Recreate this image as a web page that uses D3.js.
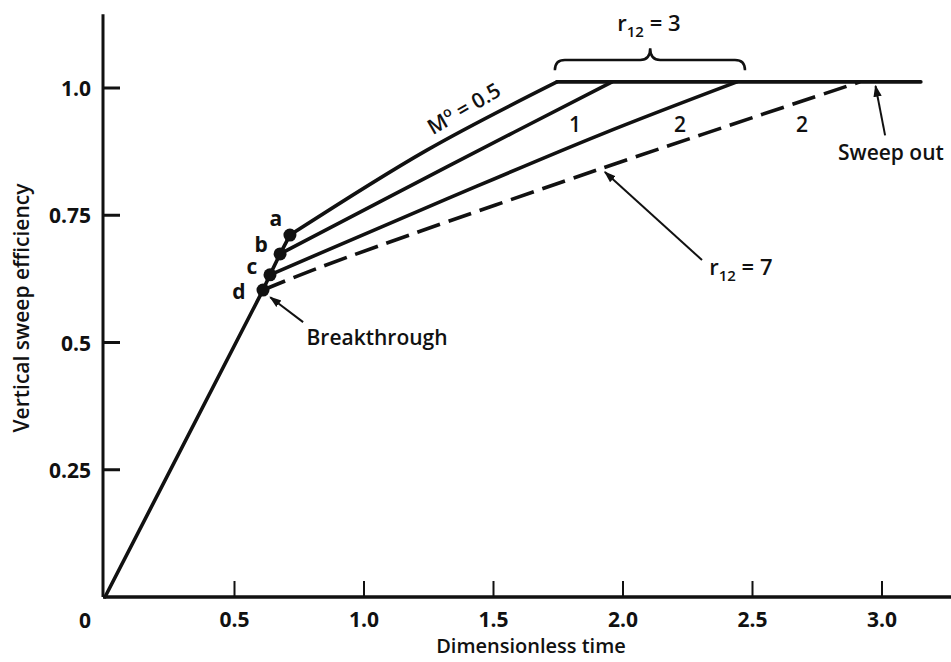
<!DOCTYPE html>
<html>
<head>
<meta charset="utf-8">
<script src="https://cdn.jsdelivr.net/npm/d3@7"></script>
<style>
  body { margin: 0; background: #fff; }
  svg text { font-family: "Open Sans", "DejaVu Sans", sans-serif; fill: #111; }
</style>
</head>
<body>
<svg id="chart" width="951" height="662"></svg>
<script>
////////////////////////////////////////////////////////////
// DATA
////////////////////////////////////////////////////////////
var xTicks = [0.5, 1.0, 1.5, 2.0, 2.5, 3.0];
var xTickLabels = ["0.5", "1.0", "1.5", "2.0", "2.5", "3.0"];
var yTicks = [0.25, 0.5, 0.75, 1.0];
var yTickLabels = ["0.25", "0.5", "0.75", "1.0"];

// line up to breakthrough, origin through d, c, b to a
var breakthroughLine = [[0, 0], [0.610, 0.603], [0.637, 0.633], [0.676, 0.674], [0.714, 0.711]];

// curves after breakthrough
var curveA = [[0.714, 0.711], [1.243, 0.878], [1.745, 1.012]];                   // M = 0.5, r12 = 3
var curveB = [[0.676, 0.674], [1.320, 0.845], [1.958, 1.012]];                   // M = 1, r12 = 3
var curveC = [[0.637, 0.633], [1.320, 0.782], [1.911, 0.908], [2.440, 1.012]];   // M = 2, r12 = 3
var curveD = [[0.610, 0.603], [0.842, 0.650], [1.900, 0.839], [2.915, 1.012]];   // M = 2, r12 = 7
var plateau = [[1.745, 1.012], [3.15, 1.012]];

var pointNames = ["a", "b", "c", "d"];
var points = [[0.714, 0.711], [0.676, 0.674], [0.637, 0.633], [0.610, 0.603]];

////////////////////////////////////////////////////////////
// SCALES
////////////////////////////////////////////////////////////
var svg = d3.select("#chart");
var x = d3.scaleLinear().domain([0, 3]).range([105, 882]);
var y = d3.scaleLinear().domain([0, 1]).range([597, 88]);

var line = d3.line()
    .x(function(d) { return x(d[0]); })
    .y(function(d) { return y(d[1]); });

var curvedLine = d3.line()
    .x(function(d) { return x(d[0]); })
    .y(function(d) { return y(d[1]); })
    .curve(d3.curveCatmullRom.alpha(0.5));

// axes
svg.append("line")
    .attr("x1", x(0) - 2).attr("x2", x(3.27))
    .attr("y1", y(0)).attr("y2", y(0))
    .attr("stroke", "#111").attr("stroke-width", 3.5);
svg.append("line")
    .attr("x1", x(0) - 2).attr("x2", x(0) - 2)
    .attr("y1", y(0)).attr("y2", y(1.145))
    .attr("stroke", "#111").attr("stroke-width", 3);

svg.selectAll(".xtick")
    .data(xTicks)
    .enter().append("line")
    .attr("class", "xtick")
    .attr("x1", function(d) { return x(d); })
    .attr("x2", function(d) { return x(d); })
    .attr("y1", y(0))
    .attr("y2", y(0) - 16)
    .attr("stroke", "#111").attr("stroke-width", 2);

svg.selectAll(".xlabel")
    .data(xTickLabels)
    .enter().append("text")
    .attr("class", "xlabel")
    .attr("x", function(d, i) { return x(xTicks[i]); })
    .attr("y", y(0) + 30)
    .attr("text-anchor", "middle")
    .attr("font-size", 21).attr("font-weight", 700)
    .text(function(d) { return d; });

svg.append("text")
    .attr("x", x(0) - 20).attr("y", y(0) + 31)
    .attr("text-anchor", "middle")
    .attr("font-size", 21).attr("font-weight", 700)
    .text("0");

svg.selectAll(".ytick")
    .data(yTicks)
    .enter().append("line")
    .attr("class", "ytick")
    .attr("x1", x(0) - 2)
    .attr("x2", x(0) + 15)
    .attr("y1", function(d) { return y(d); })
    .attr("y2", function(d) { return y(d); })
    .attr("stroke", "#111").attr("stroke-width", 3);

svg.selectAll(".ylabel")
    .data(yTickLabels)
    .enter().append("text")
    .attr("class", "ylabel")
    .attr("x", x(0) - 14)
    .attr("y", function(d, i) { return y(yTicks[i]) + 8; })
    .attr("text-anchor", "end")
    .attr("font-size", 21).attr("font-weight", 700)
    .text(function(d) { return d; });

// axis titles
svg.append("text")
    .attr("x", 531).attr("y", 653)
    .attr("text-anchor", "middle")
    .attr("font-size", 20).attr("font-weight", 600)
    .text("Dimensionless time");
svg.append("text")
    .attr("transform", "translate(29,308) rotate(-90)")
    .attr("text-anchor", "middle")
    .attr("font-size", 21).attr("font-weight", 600)
    .text("Vertical sweep efficiency");

// curves
var solidCurves = [breakthroughLine, curveA, curveB, curveC, plateau];
solidCurves.forEach(function(c) {
    svg.append("path")
        .datum(c)
        .attr("fill", "none")
        .attr("stroke", "#111")
        .attr("stroke-width", 3.6)
        .attr("stroke-linejoin", "round")
        .attr("stroke-linecap", "round")
        .attr("d", c === breakthroughLine || c === plateau ? line : curvedLine);
});
svg.append("path")
    .datum(curveD)
    .attr("fill", "none")
    .attr("stroke", "#111")
    .attr("stroke-width", 3.6)
    .attr("stroke-dasharray", "24,9")
    .attr("d", curvedLine);

// breakthrough points
svg.selectAll(".pt")
    .data(points)
    .enter().append("circle")
    .attr("class", "pt")
    .attr("cx", function(d) { return x(d[0]); })
    .attr("cy", function(d) { return y(d[1]); })
    .attr("r", 6.5)
    .attr("fill", "#111");

var nameOffsets = [[-14, -9], [-19, -2], [-18, -1], [-24, 9]];
svg.selectAll(".ptname")
    .data(pointNames)
    .enter().append("text")
    .attr("class", "ptname")
    .attr("x", function(d, i) { return x(points[i][0]) + nameOffsets[i][0]; })
    .attr("y", function(d, i) { return y(points[i][1]) + nameOffsets[i][1]; })
    .attr("text-anchor", "middle")
    .attr("font-size", 21).attr("font-weight", 700)
    .text(function(d) { return d; });

// curve labels
var curveLabels = [["1", 1.815, 0.913], ["2", 2.220, 0.913], ["2", 2.691, 0.913]];
svg.selectAll(".clabel")
    .data(curveLabels)
    .enter().append("text")
    .attr("class", "clabel")
    .attr("x", function(d) { return x(d[1]); })
    .attr("y", function(d) { return y(d[2]); })
    .attr("text-anchor", "middle")
    .attr("font-size", 21).attr("font-weight", 600)
    .text(function(d) { return d[0]; });

var mLabel = svg.append("text")
    .attr("transform", "translate(" + x(1.40) + "," + y(0.947) + ") rotate(-30)")
    .attr("text-anchor", "middle")
    .attr("font-size", 21).attr("font-weight", 600);
mLabel.append("tspan").text("M");
mLabel.append("tspan").attr("font-size", 14).attr("dy", -8).text("o");
mLabel.append("tspan").attr("dy", 8).text(" = 0.5");

// brace for r12 = 3
var braceL = x(1.737), braceR = x(2.471), braceM = x(2.105);
var bTop = y(1.055), bEnd = y(1.035), bPeak = y(1.078);
svg.append("path")
    .attr("fill", "none")
    .attr("stroke", "#111")
    .attr("stroke-width", 2.5)
    .attr("d", "M" + braceL + "," + bEnd +
        " Q" + braceL + "," + bTop + " " + (braceL + 10) + "," + bTop +
        " L" + (braceM - 10) + "," + bTop +
        " Q" + braceM + "," + bTop + " " + braceM + "," + bPeak +
        " Q" + braceM + "," + bTop + " " + (braceM + 10) + "," + bTop +
        " L" + (braceR - 10) + "," + bTop +
        " Q" + braceR + "," + bTop + " " + braceR + "," + bEnd);

function rLabel(cx, cy, value) {
    var t = svg.append("text")
        .attr("x", cx).attr("y", cy)
        .attr("text-anchor", "middle")
        .attr("font-size", 22).attr("font-weight", 600);
    t.append("tspan").text("r");
    t.append("tspan").attr("font-size", 15).attr("dy", 6).text("12");
    t.append("tspan").attr("dy", -6).text(" = " + value);
}
rLabel(x(2.10), y(1.112), "3");
rLabel(x(2.455), y(0.633), "7");

// arrows
svg.append("defs").append("marker")
    .attr("id", "head")
    .attr("viewBox", "0 0 10 10")
    .attr("refX", 9).attr("refY", 5)
    .attr("markerWidth", 6).attr("markerHeight", 6)
    .attr("markerUnits", "strokeWidth")
    .attr("orient", "auto")
    .append("path")
    .attr("d", "M0,1.5 L10,5 L0,8.5 Z")
    .attr("fill", "#111");

var arrows = [
    [[0.765, 0.540], [0.638, 0.589]],   // breakthrough
    [[2.305, 0.662], [1.930, 0.835]],   // r12 = 7
    [[3.012, 0.907], [2.975, 1.004]]    // sweep out
];
arrows.forEach(function(a) {
    svg.append("line")
        .attr("x1", x(a[0][0])).attr("y1", y(a[0][1]))
        .attr("x2", x(a[1][0])).attr("y2", y(a[1][1]))
        .attr("stroke", "#111").attr("stroke-width", 2)
        .attr("marker-end", "url(#head)");
});

svg.append("text")
    .attr("x", x(0.778)).attr("y", y(0.495))
    .attr("font-size", 21).attr("font-weight", 600)
    .text("Breakthrough");
svg.append("text")
    .attr("x", x(2.83)).attr("y", y(0.858))
    .attr("font-size", 21).attr("font-weight", 600)
    .text("Sweep out");
</script>
</body>
</html>
